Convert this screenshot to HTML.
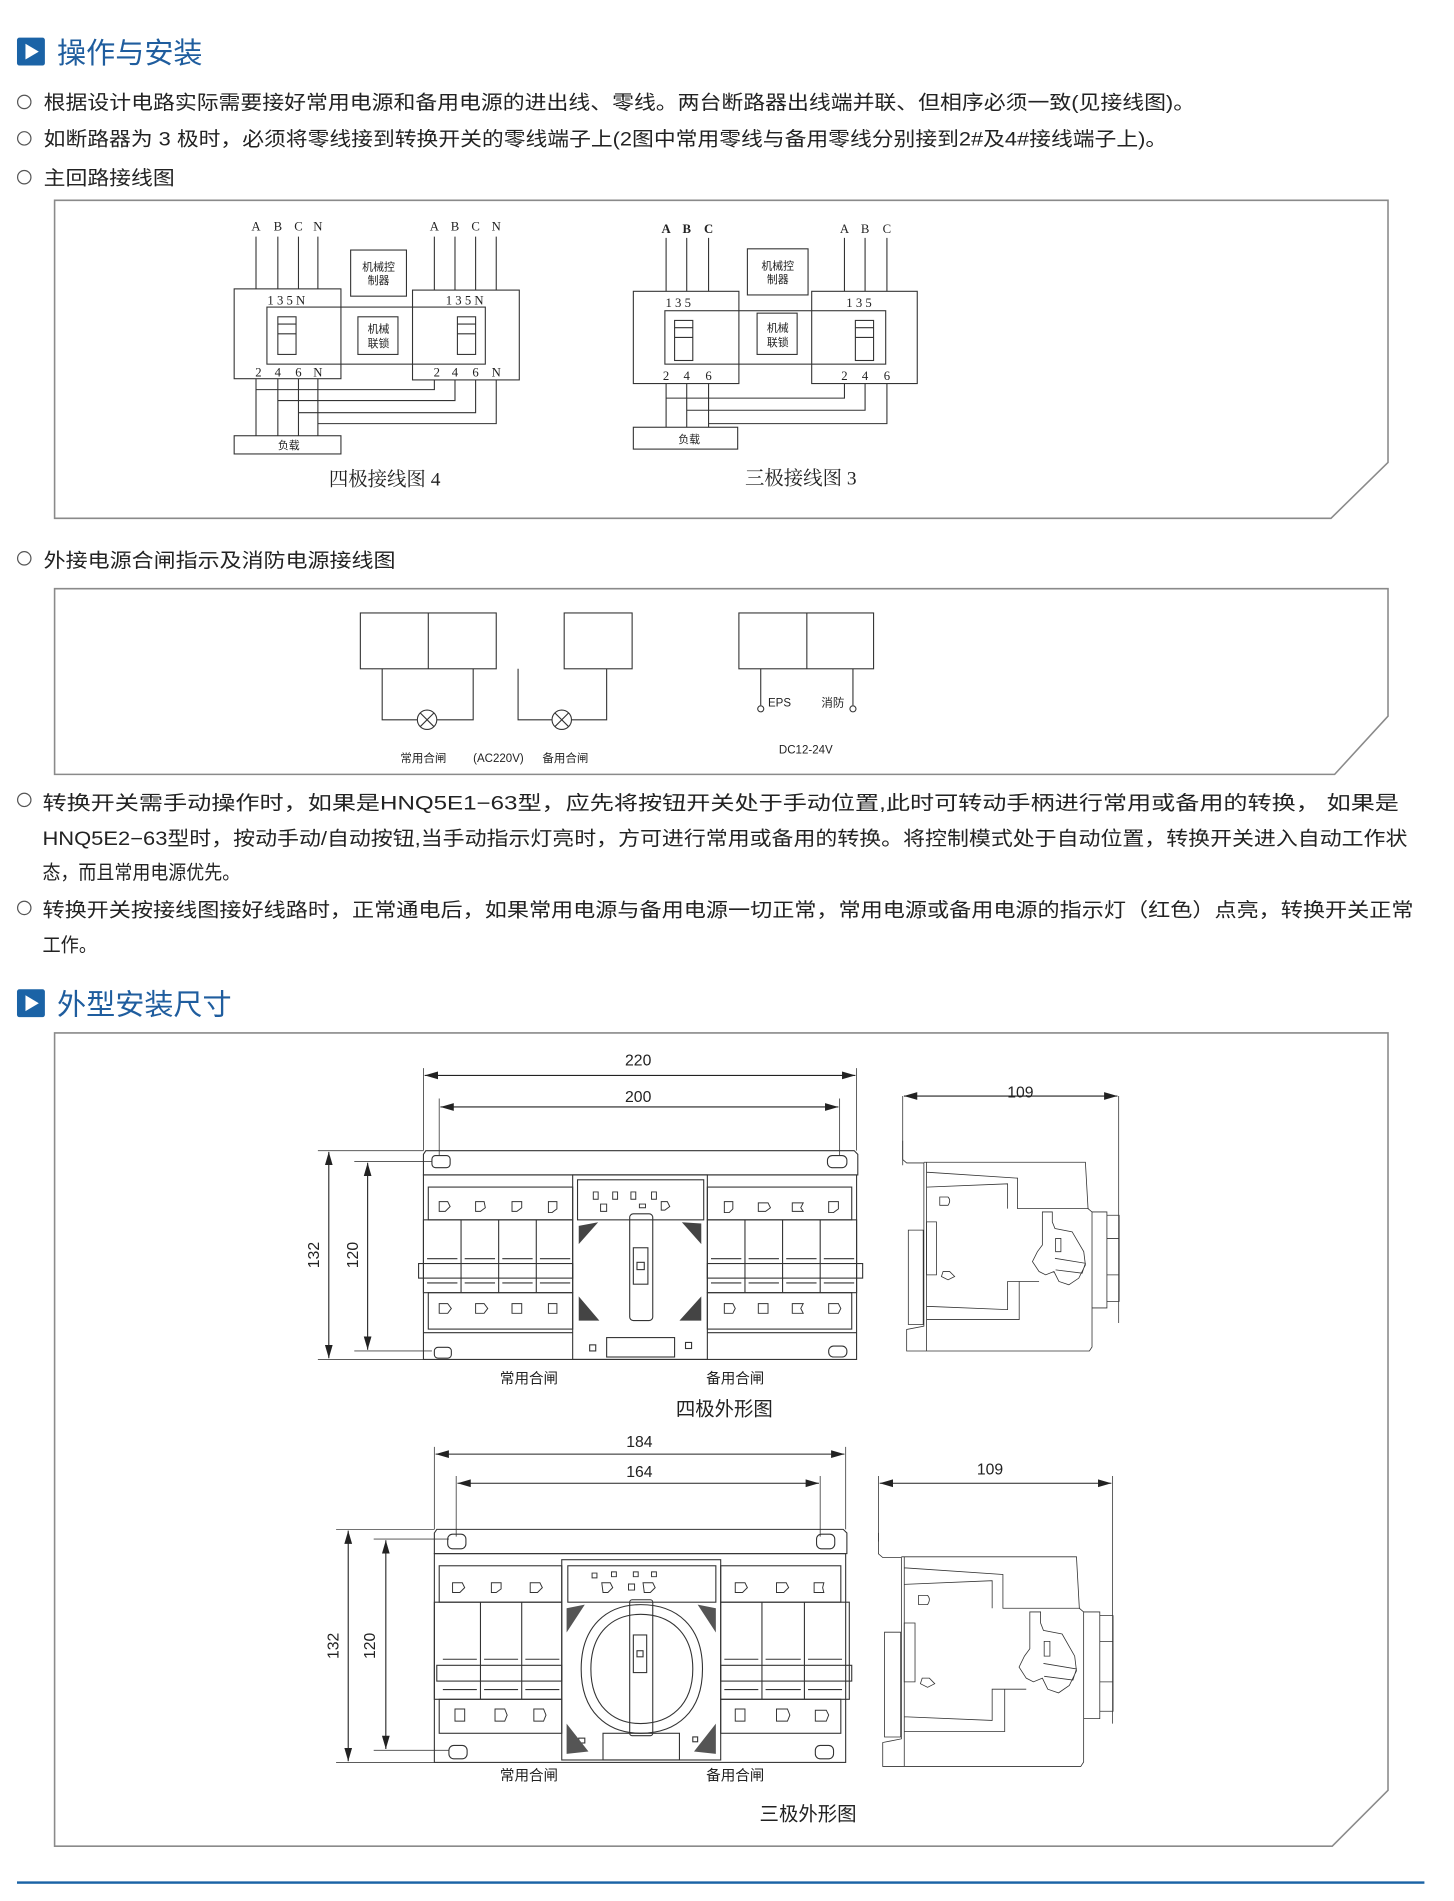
<!DOCTYPE html>
<html><head><meta charset="utf-8"><style>
html,body{margin:0;padding:0;background:#fff}
svg{display:block}
.b{font-family:"Liberation Sans","Noto Sans CJK SC",sans-serif;font-size:16px;fill:#222}
.s{font-family:"Liberation Serif","Noto Serif CJK SC",serif;fill:#222}
.d{font-family:"Liberation Sans","Noto Sans CJK SC",sans-serif;fill:#222}
.ln{fill:none;stroke:#333;stroke-width:0.9}
.lt{fill:none;stroke:#444;stroke-width:0.7}
.fr{fill:none;stroke:#8a8a8a;stroke-width:1.3}
</style></head><body>
<svg width="1454" height="1901" viewBox="0 0 1190 1556" preserveAspectRatio="none" xmlns="http://www.w3.org/2000/svg">
<defs>
<marker id="ae" markerWidth="12" markerHeight="8" refX="11" refY="4" orient="auto" markerUnits="userSpaceOnUse"><path d="M0,0.8 L11,4 L0,7.2z" fill="#222"/></marker>
<marker id="as" markerWidth="12" markerHeight="8" refX="1" refY="4" orient="auto" markerUnits="userSpaceOnUse"><path d="M12,0.8 L1,4 L12,7.2z" fill="#222"/></marker>
<g id="side" fill="none" stroke="#333" stroke-width="0.8">
<path vector-effect="non-scaling-stroke" d="M88,205 L88,262 L100,272 L152,272 L152,765 L100,775 L100,840 L652,840 L660,828 L660,420 L648,410 L640,270 L152,270"/>
<path vector-effect="non-scaling-stroke" d="M160,270 L160,840 M160,300 L435,318 L435,410 L650,410 M160,345 L405,335 L405,410 M160,705 L405,715 L405,630 L500,630 M160,745 L440,745 L440,630"/>
<path vector-effect="non-scaling-stroke" d="M105,475 L150,475 L150,760 L105,760z M160,450 L190,450 L190,610 L160,610z"/>
<path vector-effect="non-scaling-stroke" d="M660,420 L705,420 L705,710 L660,710 M705,430 L742,430 L742,690 L705,690 M705,500 L742,500 M705,610 L742,610"/>
<path vector-effect="non-scaling-stroke" d="M510,420 L540,420 L540,450 L548,470 L600,480 L635,540 L640,580 L620,620 L590,640 L560,630 L545,600 L520,610 L500,600 L480,570 L495,540 L510,520z M550,500 L566,500 L566,540 L550,540z M548,560 L640,575 L630,605 L550,595"/>
<path vector-effect="non-scaling-stroke" d="M200,375 L225,375 Q235,385 225,400 L200,400z M210,600 L230,600 L245,615 L225,625 L205,615z"/>
</g>
</defs>
<g transform="scale(0.993,0.9935)">
<!-- Title 1 -->
<rect x="14" y="31" width="23" height="23" rx="2" fill="#1b63a6"/>
<path d="M21,36 L32,42.5 L21,49z" fill="#fff"/>
<text x="47" y="52" class="d" font-size="24" style="fill:#1f5d9e">操作与安装</text>

<g fill="none" stroke="#555" stroke-width="1">
<circle cx="20" cy="84" r="5.5"/><circle cx="20" cy="114" r="5.5"/><circle cx="20" cy="146" r="5.5"/>
<circle cx="20" cy="460" r="5.5"/><circle cx="20" cy="659" r="5.5"/><circle cx="20" cy="748" r="5.5"/>
</g>
<text x="36" y="90" class="b" textLength="949" lengthAdjust="spacingAndGlyphs">根据设计电路实际需要接好常用电源和备用电源的进出线、零线。两台断路器出线端并联、但相序必须一致(见接线图)。</text>
<text x="36" y="120" class="b" textLength="926" lengthAdjust="spacingAndGlyphs">如断路器为 3 极时，必须将零线接到转换开关的零线端子上(2图中常用零线与备用零线分别接到2#及4#接线端子上)。</text>
<text x="36" y="152" class="b" textLength="108" lengthAdjust="spacingAndGlyphs">主回路接线图</text>

<!-- Box 1 -->
<path class="fr" d="M45,165 L1144,165 L1144,381 L1097,427 L45,427z"/>
<!-- four-pole -->
<g class="ln">
<path d="M211,195V238 M229,195V238 M246,195V238 M262,195V238"/>
<path d="M358,195V239 M375,195V239 M392,195V239 M409,195V239"/>
<rect x="193" y="238" width="88" height="74"/>
<rect x="340" y="239" width="88" height="74"/>
<rect x="220" y="253" width="180" height="47"/>
<rect x="229" y="261" width="15" height="31"/><path d="M229,267H244M229,275H244"/>
<rect x="377" y="261" width="15" height="31"/><path d="M377,267H392M377,275H392"/>
<rect x="289" y="206" width="46" height="38"/>
<rect x="295" y="261" width="33" height="31"/>
<path d="M211,312V359 M229,312V359 M246,312V359 M262,312V359"/>
<path d="M211,321H358V313 M229,330H375V313 M246,340H392V313 M262,349H409V313"/>
<rect x="193" y="359" width="88" height="15"/>
</g>
<g class="s" font-size="10.5" text-anchor="middle">
<text x="211" y="190">A</text><text x="229" y="190">B</text><text x="246" y="190">C</text><text x="262" y="190">N</text>
<text x="358" y="190">A</text><text x="375" y="190">B</text><text x="392" y="190">C</text><text x="409" y="190">N</text>
<text x="236" y="251">1 3 5 N</text><text x="383" y="251">1 3 5 N</text>
<text x="213" y="310">2</text><text x="229" y="310">4</text><text x="246" y="310">6</text><text x="262" y="310">N</text>
<text x="360" y="310">2</text><text x="375" y="310">4</text><text x="392" y="310">6</text><text x="409" y="310">N</text>
</g>
<g class="d" font-size="9" text-anchor="middle">
<text x="312" y="223">机械控</text><text x="312" y="234">制器</text>
<text x="312" y="274">机械</text><text x="312" y="286">联锁</text>
<text x="238" y="370">负载</text>
</g>
<text x="317" y="400" class="s" font-size="16" text-anchor="middle">四极接线图 4</text>

<!-- three-pole -->
<g class="ln">
<path d="M549,196V240 M566,196V240 M584,196V240"/>
<path d="M696,196V240 M713,196V240 M731,196V240"/>
<rect x="522" y="240" width="87" height="76"/>
<rect x="669" y="240" width="87" height="76"/>
<rect x="548" y="256" width="182" height="44"/>
<rect x="556" y="264" width="15" height="33"/><path d="M556,270H571M556,278H571"/>
<rect x="705" y="264" width="15" height="33"/><path d="M705,270H720M705,278H720"/>
<rect x="616" y="205" width="50" height="38"/>
<rect x="624" y="258" width="33" height="34"/>
<path d="M549,316V352 M566,316V352 M584,316V352"/>
<path d="M549,328H696V316 M566,338H713V316 M584,349H731V316"/>
<rect x="522" y="352" width="86" height="18"/>
</g>
<g class="s" font-size="10.5" text-anchor="middle">
<text x="549" y="192" font-weight="bold">A</text><text x="566" y="192" font-weight="bold">B</text><text x="584" y="192" font-weight="bold">C</text>
<text x="696" y="192">A</text><text x="713" y="192">B</text><text x="731" y="192">C</text>
<text x="559" y="253">1 3 5</text><text x="708" y="253">1 3 5</text>
<text x="549" y="313">2</text><text x="566" y="313">4</text><text x="584" y="313">6</text>
<text x="696" y="313">2</text><text x="713" y="313">4</text><text x="731" y="313">6</text>
</g>
<g class="d" font-size="9" text-anchor="middle">
<text x="641" y="222">机械控</text><text x="641" y="233">制器</text>
<text x="641" y="273">机械</text><text x="641" y="285">联锁</text>
<text x="568" y="365">负载</text>
</g>
<text x="660" y="399" class="s" font-size="16" text-anchor="middle">三极接线图 3</text>

<text x="36" y="467" class="b" textLength="290" lengthAdjust="spacingAndGlyphs">外接电源合闸指示及消防电源接线图</text>

<!-- Box 2 -->
<path class="fr" d="M45,485 L1144,485 L1144,590 L1100,638 L45,638z"/>
<g class="ln">
<rect x="297" y="505" width="112" height="46"/><path d="M353,505V551"/>
<path d="M315,551V593H344 M360,593H390V551"/>
<circle cx="352" cy="593" r="8"/><path d="M346.3,587.3L357.7,598.7M357.7,587.3L346.3,598.7"/>
<rect x="465" y="505" width="56" height="46"/>
<path d="M427,551V593H455 M471,593H500V551"/>
<circle cx="463" cy="593" r="8"/><path d="M457.3,587.3L468.7,598.7M468.7,587.3L457.3,598.7"/>
<rect x="609" y="505" width="111" height="46"/><path d="M665,505V551"/>
<path d="M627,551V581 M703,551V581"/>
<circle cx="627" cy="584" r="2.5"/><circle cx="703" cy="584" r="2.5"/>
</g>
<g class="d" font-size="9.5">
<text x="330" y="628">常用合闸</text><text x="390" y="628">(AC220V)</text><text x="447" y="628">备用合闸</text>
<text x="633" y="582">EPS</text><text x="677" y="582">消防</text>
<text x="642" y="621">DC12-24V</text>
</g>

<!-- paragraphs -->
<text x="35" y="667" class="b" textLength="1118" lengthAdjust="spacingAndGlyphs">转换开关需手动操作时，如果是HNQ5E1−63型，应先将按钮开关处于手动位置,此时可转动手柄进行常用或备用的转换，  如果是</text>
<text x="35" y="696" class="b" textLength="1125" lengthAdjust="spacingAndGlyphs">HNQ5E2−63型时，按动手动/自动按钮,当手动指示灯亮时，方可进行常用或备用的转换。将控制模式处于自动位置，转换开关进入自动工作状</text>
<text x="35" y="724" class="b" textLength="163" lengthAdjust="spacingAndGlyphs">态，而且常用电源优先。</text>
<text x="35" y="755" class="b" textLength="1130" lengthAdjust="spacingAndGlyphs">转换开关按接线图接好线路时，正常通电后，如果常用电源与备用电源一切正常，常用电源或备用电源的指示灯（红色）点亮，转换开关正常</text>
<text x="35" y="784" class="b" textLength="45" lengthAdjust="spacingAndGlyphs">工作。</text>

<!-- Title 2 -->
<rect x="14" y="815" width="23" height="23" rx="2" fill="#1b63a6"/>
<path d="M21,820 L32,826.5 L21,833z" fill="#fff"/>
<text x="47" y="836" class="d" font-size="24" style="fill:#1f5d9e">外型安装尺寸</text>

<!-- Box 3 -->
<path class="fr" d="M45,851 L1144,851 L1144,1475 L1098,1521 L45,1521z"/>

<!-- 4-pole front -->
<g class="lt">
<path d="M349,880V948 M706,880V948 M362,905V952 M692,905V952"/>
<path d="M262,948H349 M292,957H356 M262,1120H349 M292,1113H356"/>
</g>
<g stroke="#222" stroke-width="0.9">
<line x1="350" y1="886" x2="705" y2="886" marker-start="url(#as)" marker-end="url(#ae)"/>
<line x1="363" y1="912" x2="691" y2="912" marker-start="url(#as)" marker-end="url(#ae)"/>
<line x1="271" y1="949" x2="271" y2="1119" marker-start="url(#as)" marker-end="url(#ae)"/>
<line x1="303" y1="958" x2="303" y2="1112" marker-start="url(#as)" marker-end="url(#ae)"/>
</g>
<g class="d" font-size="13" text-anchor="middle">
<text x="526" y="878">220</text><text x="526" y="908">200</text>
<text transform="translate(263,1034) rotate(-90)">132</text>
<text transform="translate(295,1034) rotate(-90)">120</text>
</g>
<g class="ln">
<path d="M351,948H704L707,951V968H349V951z"/>
<rect x="356" y="952" width="15" height="10" rx="3"/><rect x="682" y="952" width="16" height="10" rx="4"/>
<rect x="349" y="968" width="357" height="152"/>
<rect x="353" y="978" width="119" height="27"/><rect x="583" y="978" width="119" height="27"/>
<rect x="349" y="1005" width="123" height="60"/><rect x="583" y="1005" width="123" height="60"/>
<path d="M380,1005V1065 M411,1005V1065 M442,1005V1065 M614,1005V1065 M645,1005V1065 M676,1005V1065"/>
<rect x="345" y="1041" width="127" height="12"/><rect x="583" y="1041" width="128" height="12"/>
<path d="M352,1037H377M383,1037H408M414,1037H439M445,1037H470M586,1037H611M617,1037H642M648,1037H673M679,1037H704"/>
<path d="M352,1057H377M383,1057H408M414,1057H439M445,1057H470M586,1057H611M617,1057H642M648,1057H673M679,1057H704"/>
<rect x="353" y="1065" width="119" height="30"/><rect x="583" y="1065" width="119" height="30"/>
<path d="M349,1098H472 M583,1098H706"/>
<rect x="358" y="1110" width="14" height="9" rx="3"/><rect x="683" y="1109" width="15" height="9" rx="4"/>
<rect x="472" y="968" width="111" height="152"/>
<rect x="476" y="972" width="104" height="33"/>
<rect x="519" y="1000" width="19" height="88" rx="3"/>
<rect x="522" y="1028" width="12" height="30"/><rect x="525" y="1040" width="6" height="6"/>
<rect x="500" y="1102" width="56" height="16"/>
<rect x="486" y="1108" width="5" height="5"/><rect x="565" y="1106" width="5" height="5"/>
</g>
<g fill="none" stroke="#333" stroke-width="0.8">
<path d="M362,990h7l2,4-4,4h-5z M392,990h7l1,5-4,3h-4z M422,990h8v5l-4,3h-4z M452,990h7v6l-4,3h-3z"/>
<path d="M597,990h7v6l-3,3h-4z M625,991h8l2,4-4,3h-6z M653,991h9l-2,4 2,3h-9z M683,990h8v6l-4,3h-4z"/>
<path d="M362,1074h7l3,4-3,4h-7z M392,1074h7l3,4-3,4h-7z M422,1074h8v8h-8z M452,1074h7v8h-7z"/>
<path d="M597,1074h7l2,4-2,4h-7z M625,1074h8v8h-8z M653,1074h9l-2,4 2,4h-9z M683,1074h8l2,4-2,4h-8z"/>
<path d="M489,982h4v6h-4z M505,982h4v6h-4z M520,982h4v6h-4z M537,982h4v6h-4z M495,992h5v6h-5z M527,992h5v3h-5z M545,990h5l2,4-4,3h-3z"/>
</g>
<g fill="#444">
<path d="M477,1010 L493,1007 L477,1025z M578,1008 L562,1007 L578,1025z M477,1088 L494,1088 L477,1068z M578,1088 L560,1088 L578,1068z"/>
</g>
<g class="d" font-size="12" text-anchor="middle">
<text x="436" y="1140">常用合闸</text><text x="606" y="1140">备用合闸</text>
</g>
<text x="597" y="1166" class="d" font-size="16" text-anchor="middle">四极外形图</text>

<!-- side view 1 -->
<g class="lt"><path d="M744,903V960 M922,903V1090"/></g>
<line x1="745" y1="903" x2="921" y2="903" stroke="#222" stroke-width="0.9" marker-start="url(#as)" marker-end="url(#ae)"/>
<text x="841" y="904" class="d" font-size="13" text-anchor="middle">109</text>
<use href="#side" transform="translate(744,903) scale(0.2728) translate(-88,-70)"/>

<!-- 3-pole front -->
<g class="lt">
<path d="M358,1192V1260 M697,1192V1260 M376,1216V1266 M676,1216V1266"/>
<path d="M277,1260H358 M308,1268H370 M277,1452H358 M308,1442H370"/>
</g>
<g stroke="#222" stroke-width="0.9">
<line x1="359" y1="1198" x2="696" y2="1198" marker-start="url(#as)" marker-end="url(#ae)"/>
<line x1="377" y1="1222" x2="675" y2="1222" marker-start="url(#as)" marker-end="url(#ae)"/>
<line x1="287" y1="1261" x2="287" y2="1451" marker-start="url(#as)" marker-end="url(#ae)"/>
<line x1="318" y1="1269" x2="318" y2="1441" marker-start="url(#as)" marker-end="url(#ae)"/>
</g>
<g class="d" font-size="13" text-anchor="middle">
<text x="527" y="1192">184</text><text x="527" y="1217">164</text>
<text transform="translate(279,1356) rotate(-90)">132</text>
<text transform="translate(309,1356) rotate(-90)">120</text>
</g>
<g class="ln">
<path d="M360,1260H695L698,1263V1280H358V1263z"/>
<rect x="369" y="1264" width="15" height="12" rx="4"/><rect x="673" y="1264" width="15" height="12" rx="4"/>
<rect x="358" y="1280" width="339" height="172"/>
<rect x="362" y="1290" width="101" height="30"/><rect x="594" y="1290" width="99" height="30"/>
<rect x="358" y="1320" width="105" height="80"/><rect x="594" y="1320" width="106" height="80"/>
<path d="M396,1320V1400 M430,1320V1400 M628,1320V1400 M663,1320V1400"/>
<rect x="360" y="1372" width="103" height="13"/><rect x="594" y="1372" width="108" height="13"/>
<path d="M365,1367H393M399,1367H427M433,1367H461M597,1367H625M631,1367H660M666,1367H694"/>
<path d="M365,1392H393M399,1392H427M433,1392H461M597,1392H625M631,1392H660M666,1392H694"/>
<rect x="362" y="1400" width="101" height="28"/><rect x="594" y="1400" width="99" height="28"/>
<rect x="370" y="1438" width="15" height="11" rx="4"/><rect x="672" y="1438" width="15" height="11" rx="4"/>
<rect x="463" y="1285" width="131" height="165"/>
<rect x="468" y="1290" width="122" height="30"/>
<path d="M479,1375 C479,1340 500,1322 528,1322 C558,1322 579,1340 579,1375 C579,1410 558,1428 528,1428 C500,1428 479,1410 479,1375z"/>
<path d="M487,1375 C487,1345 505,1330 528,1330 C552,1330 571,1345 571,1375 C571,1405 552,1420 528,1420 C505,1420 487,1405 487,1375z"/>
<rect x="519" y="1318" width="19" height="112" rx="2"/>
<rect x="522" y="1347" width="11" height="31"/><rect x="525" y="1360" width="5" height="5"/>
<rect x="497" y="1428" width="63" height="22"/>
<rect x="477" y="1432" width="5" height="4"/><rect x="571" y="1431" width="4" height="4"/>
</g>
<g fill="none" stroke="#333" stroke-width="0.8">
<path d="M373,1304h8l2,4-4,4h-6z M405,1304h8v5l-4,3h-4z M437,1304h8l2,4-4,4h-6z"/>
<path d="M606,1304h8l2,4-4,4h-6z M640,1304h8l2,4-4,4h-6z M671,1304h8l-1,4 1,4h-8z"/>
<path d="M375,1408h8v10h-8z M408,1408h8l2,5-2,5h-8z M440,1408h8l2,5-2,5h-8z"/>
<path d="M606,1408h8v10h-8z M640,1408h9l2,5-2,5h-9z M672,1409h9l2,4-2,5h-9z"/>
<path d="M488,1296h4v4h-4z M504,1295h4v4h-4z M522,1295h4v4h-4z M537,1295h4v4h-4z M496,1304h7l2,4-4,4h-4z M518,1305h5v5h-5z M530,1304h8l2,4-4,4h-5z"/>
</g>
<g fill="#555">
<path d="M467,1325 L482,1322 L467,1345z M590,1325 L575,1322 L590,1345z M467,1445 L485,1443 L467,1420z M590,1445 L572,1443 L590,1420z"/>
</g>
<g class="d" font-size="12" text-anchor="middle">
<text x="436" y="1467">常用合闸</text><text x="606" y="1467">备用合闸</text>
</g>
<text x="666" y="1500" class="d" font-size="16" text-anchor="middle">三极外形图</text>

<!-- side view 2 -->
<g class="lt"><path d="M724,1216V1270 M917,1216V1420"/></g>
<line x1="725" y1="1222" x2="916" y2="1222" stroke="#222" stroke-width="0.9" marker-start="url(#as)" marker-end="url(#ae)"/>
<text x="816" y="1215" class="d" font-size="13" text-anchor="middle">109</text>
<use href="#side" transform="translate(724,1222) scale(0.2957,0.303) translate(-88,-70)"/>

<!-- footer -->
<rect x="14" y="1550" width="1160" height="2" fill="#1b63a6"/>
</g>
</svg>
</body></html>
